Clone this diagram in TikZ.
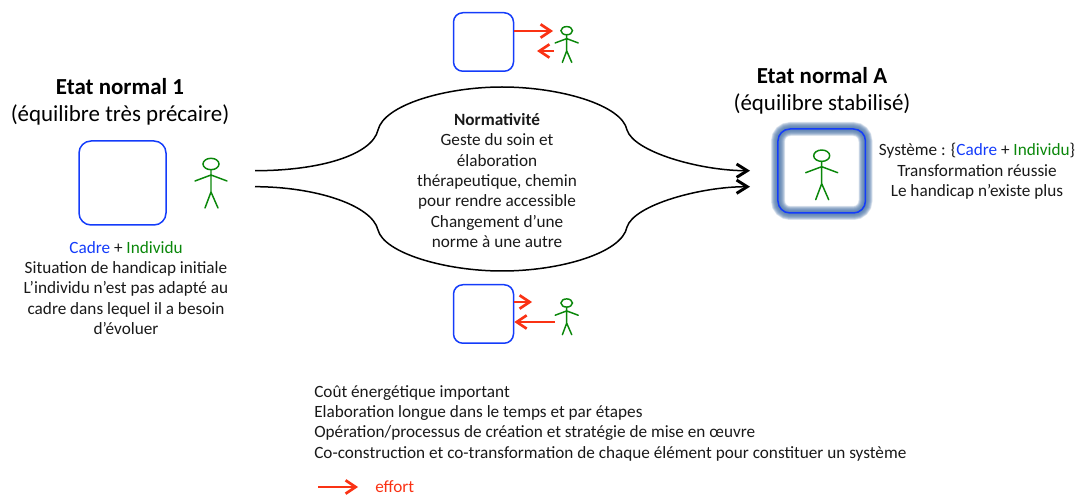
\documentclass[tikz,border=0pt]{standalone}
\usepackage{fontspec}
\setmainfont{Carlito}
\usetikzlibrary{arrows.meta}
\definecolor{cadre}{RGB}{20,60,250}
\definecolor{indiv}{RGB}{10,135,10}
\definecolor{effortc}{RGB}{250,50,20}
\definecolor{glowc}{RGB}{80,120,170}
\tikzset{
  boxst/.style={draw=cadre,line width=1.5pt*.75,rounded corners=#1},
  boxst/.default=9,
  blackcurve/.style={draw=black,line width=1.5*.75pt},
  blackhead/.style={-{Straight Barb[length=8pt,width=10pt,line width=2.2pt]}},
  eff/.style={draw=effortc,line width=1.2pt,-{Straight Barb[length=7.5pt,width=10pt,line width=2pt]}},
  body/.style={font=\fontsize{12.9}{15.25}\selectfont,inner sep=0pt,align=center,text=black!90},
  head/.style={font=\fontsize{17.2}{20.2}\selectfont,inner sep=0pt,align=center,text=black},
  pics/stick/.style={code={
    \draw[draw=indiv,line width=1.1pt,line cap=round] (0,0) ellipse [x radius=8,y radius=5.7];
    \draw[draw=indiv,line width=1.1pt,line cap=round]
      (0,5.7) -- (0,28) (-16,17) -- (0,11) -- (16,17) (-6,44) -- (0,28) -- (7,44);
  }}
}
\begin{document}
\begin{tikzpicture}[x=.75pt,y=-.75pt]
\useasboundingbox (0,0) rectangle (1082,495);
% titles
\node[head] (t1) at (120,101.5) {\textbf{Etat normal 1}\\(équilibre très précaire)};
\node[head] (t2) at (822,91) {\textbf{Etat normal A}\\(équilibre stabilisé)};
% left
\node[boxst=9,minimum width=87*.75pt,minimum height=84*.75pt,inner sep=0pt] (b1) at (122.5,183) {};
\pic at (211,164) {stick};
\node[body] (l1) at (126,288) {\textcolor{cadre}{Cadre} + \textcolor{indiv}{Individu}\\Situation de handicap initiale\\L’individu n’est pas adapté au\\cadre dans lequel il a besoin\\d’évoluer};
% top
\node[boxst=7,minimum width=60*.75pt,minimum height=58.5*.75pt,inner sep=0pt] (b2) at (483.5,42) {};
\pic[scale=.72] at (566.7,30.7) {stick};
\coordinate (a1) at (553,31);
\coordinate (a2s) at (554,51);
\coordinate (a2e) at (537,51);
\draw[eff] (b2.east |- a1) -- (a1);
\draw[eff] (a2s) -- (a2e);
% bottom
\node[boxst=7,minimum width=60*.75pt,minimum height=58.5*.75pt,inner sep=0pt] (b3) at (483.5,314) {};
\pic[scale=.72] at (566.7,303) {stick};
\coordinate (a3) at (532,302);
\coordinate (a4s) at (555,322);
\draw[eff] (b3.east |- a3) -- (a3);
\draw[eff] (a4s) -- (b3.east |- a4s);
% right box with glow
\foreach \w in {14,13,12,11,10,9,8,7,6,5,4,3}{
  \draw[draw=glowc,line width=\w*.75pt,opacity=.16,rounded corners=9]
    (778,129) rectangle (865.5,213);
}
\node[boxst=9,minimum width=87.5*.75pt,minimum height=84*.75pt,inner sep=0pt] (b4) at (821.7,171) {};
\pic at (821.7,155.7) {stick};
\node[body] (r1) at (977,171.5) {Système : \{\textcolor{cadre}{Cadre} + \textcolor{indiv}{Individu}\}\\Transformation réussie\\Le handicap n’existe plus};
% curves
\coordinate (s1) at (255,170.7);
\coordinate (e1) at (750,170.7);
\coordinate (s2) at (255,186.7);
\coordinate (e2) at (750,186.7);
\draw[blackcurve,blackhead] (s1) .. controls (320,170.7) and (372,155) .. (378,130)
  .. controls (384,105) and (445,87) .. (502,87)
  .. controls (560,87) and (622,105) .. (627,130)
  .. controls (634,152) and (700,170.7) .. (e1);
\draw[blackcurve,blackhead] (s2) .. controls (315,186.7) and (372,205) .. (378,230)
  .. controls (384,253) and (445,271) .. (502,271)
  .. controls (560,271) and (622,253) .. (627,227)
  .. controls (634,205) and (700,186.7) .. (e2);
\node[body] (m1) at (497,180.5) {\textbf{Normativité}\\Geste du soin et\\élaboration\\thérapeutique, chemin\\pour rendre accessible\\Changement d’une\\norme à une autre};
% bottom list
\node[body,align=left,anchor=west] (n1) at (314,423) {Coût énergétique important\\Elaboration longue dans le temps et par étapes\\Opération/processus de création et stratégie de mise en œuvre\\Co-construction et co-transformation de chaque élément pour constituer un système};
% legend
\coordinate (k1) at (318,487);
\coordinate (k2) at (358,487);
\draw[eff] (k1) -- (k2);
\node[body,anchor=west,text=effortc] (k3) at (375,486.5) {effort};
\end{tikzpicture}
\end{document}
